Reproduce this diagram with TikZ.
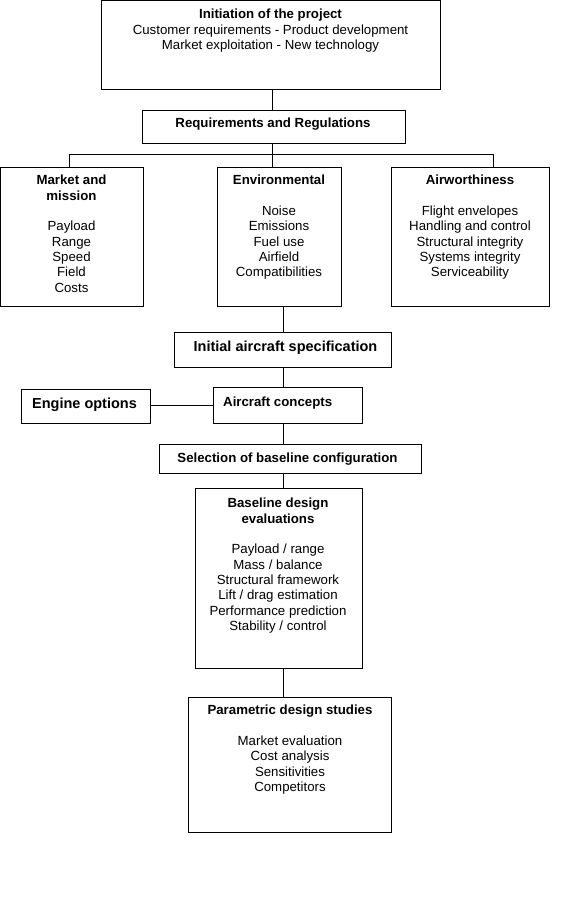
\documentclass[tikz,border=0pt]{standalone}
\usepackage{fontspec}
\setmainfont{Liberation Sans}
\begin{document}
\begin{tikzpicture}[x=1pt,y=-1pt,
  box/.style={draw, line width=1pt, inner sep=0pt},
  txt/.style={anchor=north, inner sep=0pt, align=center, yshift=-1pt, font=\fontsize{13.25}{15.3}\selectfont},
  bigtxt/.style={anchor=north, inner sep=0pt, align=center, yshift=-1pt, font=\fontsize{14.5}{17}\selectfont\bfseries},
  link/.style={line width=1pt}]
\fill[white] (0,0) rectangle (580,903);
\useasboundingbox (0,0) rectangle (580,903);

% boxes
\node[box, minimum width=339pt, minimum height=89pt] (init) at (270.5,45) {};
\node[box, minimum width=263pt, minimum height=33pt] (req) at (273.5,126.5) {};
\node[box, minimum width=142.5pt, minimum height=139pt] (market) at (71.75,236.5) {};
\node[box, minimum width=124pt, minimum height=139pt] (env) at (279,236.5) {};
\node[box, minimum width=158pt, minimum height=139pt] (air) at (470,236.5) {};
\node[box, minimum width=217pt, minimum height=35pt] (spec) at (282.5,349.5) {};
\node[box, minimum width=149pt, minimum height=36pt] (concepts) at (287.5,405) {};
\node[box, minimum width=129pt, minimum height=34pt] (engine) at (85.5,406) {};
\node[box, minimum width=262pt, minimum height=29pt] (sel) at (290,458.5) {};
\node[box, minimum width=167pt, minimum height=180pt] (base) at (278.5,578) {};
\node[box, minimum width=203pt, minimum height=135pt] (param) at (289.5,764.5) {};

% texts
\node[txt] (initT) at (270.5,7) {\strut\textbf{Initiation of the project}\\Customer requirements - Product development\\Market exploitation - New technology};
\node[txt] (reqT) at (273,116) {\strut\textbf{Requirements and Regulations}};
\node[txt] (marketT) at (71.5,173) {\strut\textbf{Market and}\\\textbf{mission}\\[15.3pt]Payload\\Range\\Speed\\Field\\Costs};
\node[txt] (envT) at (279,173) {\strut\textbf{Environmental}\\[15.3pt]Noise\\Emissions\\Fuel use\\Airfield\\Compatibilities};
\node[txt] (airT) at (470,173) {\strut\textbf{Airworthiness}\\[15.3pt]Flight envelopes\\Handling and control\\Structural integrity\\Systems integrity\\Serviceability};
\node[bigtxt] (specT) at (285.5,338.3) {\strut Initial aircraft specification};
\node[txt, anchor=north west] (conceptsT) at (223,395) {\strut\textbf{Aircraft concepts}};
\node[bigtxt] (engineT) at (84.5,395.3) {\strut Engine options};
\node[txt] (selT) at (287.5,451) {\strut\textbf{Selection of baseline configuration}};
\node[txt] (baseT) at (278,496) {\strut\textbf{Baseline design}\\\textbf{evaluations}\\[15.3pt]Payload / range\\Mass / balance\\Structural framework\\Lift / drag estimation\\Performance prediction\\Stability / control};
\node[txt] (paramT) at (290,703) {\strut\textbf{Parametric design studies}\\[15.3pt]Market evaluation\\Cost analysis\\Sensitivities\\Competitors};

% connectors
\coordinate (hl) at (69,154);
\coordinate (hr) at (493,154);
\coordinate (spine) at (283,0);
\draw[link] ([xshift=1.5pt]init.south) -- ([xshift=1.5pt]init.south |- req.north);
\draw[link] ([xshift=-1.5pt]req.south) -- ([xshift=-1.5pt]req.south |- env.north);
\draw[link] (hl |- market.north) -- (hl) -- (hr) -- (hr |- air.north);
\draw[link] (spine |- env.south) -- (spine |- spec.north);
\draw[link] (spine |- spec.south) -- (spine |- concepts.north);
\draw[link] (engine.east |- concepts.west) -- (concepts.west);
\draw[link] (spine |- concepts.south) -- (spine |- sel.north);
\draw[link] (spine |- sel.south) -- (spine |- base.north);
\draw[link] (spine |- base.south) -- (spine |- param.north);
\end{tikzpicture}
\end{document}
